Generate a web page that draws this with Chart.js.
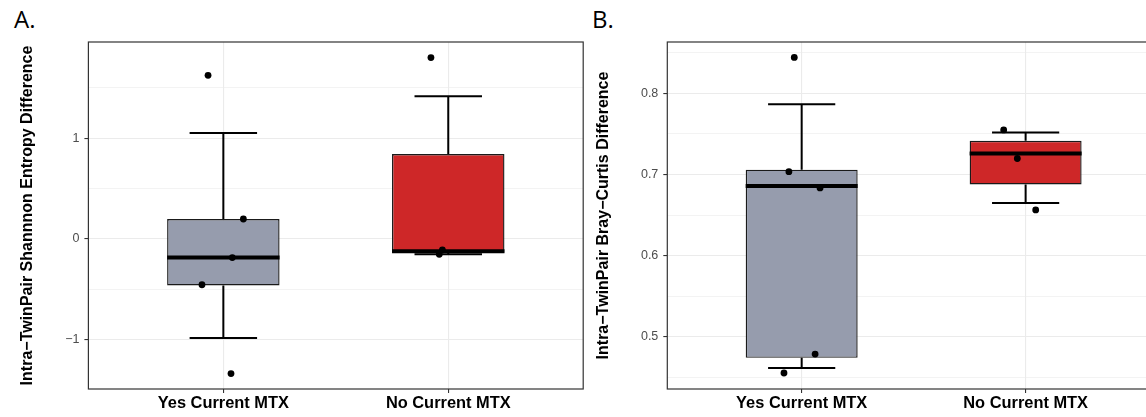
<!DOCTYPE html>
<html>
<head>
<meta charset="utf-8">
<script src="https://cdn.jsdelivr.net/npm/chart.js@4"></script>
<style>
  html, body { margin: 0; padding: 0; background: #fff; overflow: hidden; }
  #wrap { position: relative; width: 1146px; height: 417px; overflow: hidden; }
  canvas { position: absolute; top: 0; }
  .tag { position: absolute; font-family: 'Open Sans', sans-serif; font-size: 24px; line-height: 24px; color: #000; }
</style>
</head>
<body>
<div id="wrap">
  <div class="tag" style="left:14px; top:7px;">A.</div>
  <div class="tag" style="left:592px; top:7px;">B.</div>
  <canvas id="chartA" width="590" height="417" style="left:0"></canvas>
  <canvas id="chartB" width="600" height="417" style="left:590px"></canvas>
</div>
<script>
const groups = ['Yes Current MTX', 'No Current MTX'];
const boxColors = ['#969CAD', '#CE2728'];

// A: Shannon entropy difference, box stats per group
const shannonLow = [-0.983, -0.152];
const shannonQ1 = [-0.462, -0.138];
const shannonMedian = [-0.185, -0.122];
const shannonQ3 = [0.198, 0.842];
const shannonHigh = [1.052, 1.416];
const shannonYesPoints = [1.624, 0.198, -0.185, -0.455, -1.337];
const shannonYesJitter = [-0.068, 0.089, 0.040, -0.095, 0.034];
const shannonNoPoints = [1.800, -0.109, -0.152];
const shannonNoJitter = [-0.077, -0.026, -0.040];
const shannonTicks = [-1, 0, 1];
const shannonMinor = [-0.5, 0.5, 1.5];

// B: Bray-Curtis difference
const brayLow = [0.4616, 0.6649];
const brayQ1 = [0.4742, 0.6877];
const brayMedian = [0.6858, 0.7258];
const brayQ3 = [0.7058, 0.7413];
const brayHigh = [0.7864, 0.7515];
const brayYesPoints = [0.844, 0.7033, 0.6833, 0.4788, 0.4555];
const brayYesJitter = [-0.033, -0.057, 0.082, 0.060, -0.079];
const brayNoPoints = [0.7548, 0.7196, 0.6563];
const brayNoJitter = [-0.098, -0.037, 0.045];
const brayTicks = [0.5, 0.6, 0.7, 0.8];
const brayMinor = [0.45, 0.55, 0.65, 0.75, 0.85];

Chart.defaults.font.family = "'Liberation Sans', Arial, sans-serif";

// ggplot-style panel border drawn on top
const panelBorder = {
    id: 'panelBorder',
    afterDatasetsDraw(chart) {
        const { ctx, chartArea: a } = chart;
        ctx.save();
        ctx.strokeStyle = '#333333';
        ctx.lineWidth = 1.2;
        ctx.strokeRect(a.left, a.top, a.right - a.left, a.bottom - a.top);
        ctx.restore();
    }
};

function lineSet(points, width, order) {
    return {
        type: 'line',
        data: points,
        borderColor: '#000',
        borderWidth: width,
        pointRadius: 0,
        fill: false,
        tension: 0,
        borderCapStyle: 'butt',
        order: order
    };
}

function buildDatasets(low, q1, med, q3, high, pointSets, jitterSets) {
    const ds = [];
    groups.forEach((g, i) => {
        const x = i + 1;
        ds.push(lineSet([{ x, y: q3[i] }, { x, y: high[i] }], 2, 3));
        ds.push(lineSet([{ x, y: low[i] }, { x, y: q1[i] }], 2, 3));
        ds.push(lineSet([{ x: x - 0.15, y: high[i] }, { x: x + 0.15, y: high[i] }], 2, 3));
        ds.push(lineSet([{ x: x - 0.15, y: low[i] }, { x: x + 0.15, y: low[i] }], 2, 3));
        ds.push(lineSet([{ x: x - 0.25, y: med[i] }, { x: x + 0.25, y: med[i] }], 4, 1));
    });
    ds.push({
        type: 'bar',
        data: groups.map((g, i) => ({ x: i + 1, y: [q1[i], q3[i]] })),
        backgroundColor: boxColors,
        borderColor: '#1a1a1a',
        borderWidth: 1.4,
        borderSkipped: false,
        categoryPercentage: 1,
        barPercentage: 0.5,
        order: 2
    });
    const pts = [];
    pointSets.forEach((vals, i) => {
        vals.forEach((v, j) => pts.push({ x: i + 1 + jitterSets[i][j], y: v }));
    });
    ds.push({
        type: 'scatter',
        data: pts,
        pointRadius: 3.4,
        pointBackgroundColor: '#000',
        pointBorderWidth: 0,
        showLine: false,
        order: 0
    });
    return ds;
}

function makeChart(id, opts) {
    const isMajor = v => opts.major.some(m => Math.abs(m - v) < 1e-9);
    return new Chart(document.getElementById(id), {
        type: 'scatter',
        data: { datasets: opts.datasets },
        options: {
            responsive: false,
            animation: false,
            layout: { padding: opts.padding },
            plugins: { legend: { display: false }, tooltip: { enabled: false } },
            scales: {
                x: {
                    type: 'linear',
                    min: 0.4,
                    max: 2.6,
                    offset: false,
                    afterBuildTicks: s => { s.ticks = groups.map((g, i) => ({ value: i + 1 })); },
                    afterFit: s => { s.height = 28; },
                    border: { display: false },
                    grid: { color: '#EBEBEB', lineWidth: 1.1, tickLength: 4, tickColor: '#333', offset: false },
                    ticks: {
                        autoSkip: false,
                        maxRotation: 0,
                        padding: 1,
                        color: '#000',
                        font: { size: 16.4, weight: 'bold' },
                        callback: v => groups[Math.round(v) - 1]
                    }
                },
                y: {
                    type: 'linear',
                    min: opts.min,
                    max: opts.max,
                    afterBuildTicks: s => {
                        s.ticks = opts.major.concat(opts.minor).sort((a, b) => a - b).map(v => ({ value: v }));
                    },
                    afterFit: s => { s.width = opts.yWidth; },
                    border: { display: false },
                    grid: {
                        color: '#EBEBEB',
                        lineWidth: c => (c.tick && isMajor(c.tick.value)) ? 1.1 : 0.6,
                        tickLength: 4,
                        tickColor: c => (c.tick && isMajor(c.tick.value)) ? '#333' : 'rgba(0,0,0,0)'
                    },
                    ticks: {
                        autoSkip: false,
                        padding: 5,
                        color: '#4D4D4D',
                        font: { size: 12.5 },
                        callback: v => isMajor(v) ? opts.fmt(v) : ''
                    },
                    title: {
                        display: true,
                        text: opts.title,
                        color: '#000',
                        padding: { top: 0, bottom: 0 },
                        font: { size: 16, weight: 'bold' }
                    }
                }
            }
        },
        plugins: [panelBorder]
    });
}

makeChart('chartA', {
    datasets: buildDatasets(shannonLow, shannonQ1, shannonMedian, shannonQ3, shannonHigh,
        [shannonYesPoints, shannonNoPoints], [shannonYesJitter, shannonNoJitter]),
    min: -1.49, max: 1.955,
    major: shannonTicks, minor: shannonMinor,
    fmt: v => v < 0 ? '\u2212' + Math.abs(v) : String(v),
    title: 'Intra\u2212TwinPair Shannnon Entropy Difference',
    padding: { left: 18.4, right: 6.8, top: 42, bottom: 0 },
    yWidth: 70
});

makeChart('chartB', {
    datasets: buildDatasets(brayLow, brayQ1, brayMedian, brayQ3, brayHigh,
        [brayYesPoints, brayNoPoints], [brayYesJitter, brayNoJitter]),
    min: 0.4358, max: 0.863,
    major: brayTicks, minor: brayMinor,
    fmt: v => v.toFixed(1),
    title: 'Intra\u2212TwinPair Bray\u2212Curtis Difference',
    padding: { left: 3.9, right: 30, top: 42, bottom: 0 },
    yWidth: 73.4
});
</script>
</body>
</html>
